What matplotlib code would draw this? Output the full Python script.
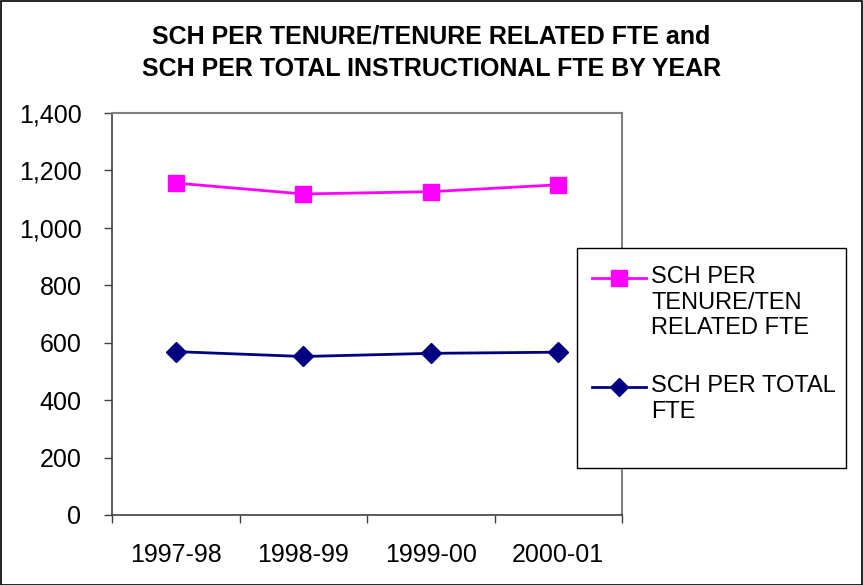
import numpy as np
import matplotlib.pyplot as plt
from matplotlib.patches import Rectangle
from matplotlib.lines import Line2D
from matplotlib.ticker import FuncFormatter

plt.rcParams['font.family'] = ['Liberation Sans', 'DejaVu Sans']

# ── Data ──────────────────────────────────────────────────────
years = ["1997-98", "1998-99", "1999-00", "2000-01"]
sch_tenure = [1156, 1118, 1126, 1150]
sch_total = [569, 552, 563, 567]
labels = ["SCH PER\nTENURE/TEN\nRELATED FTE", "SCH PER TOTAL\nFTE"]

PINK, NAVY = '#FF00FF', '#000080'
W, H = 863, 585

fig = plt.figure(figsize=(W / 100, H / 100), dpi=100)
fig.patch.set_facecolor('white')

ax = fig.add_axes([112 / W, 1 - 515 / H, (622 - 112) / W, (515 - 113) / H])
x = np.arange(len(years))

ax.plot(x, sch_tenure, color=PINK, lw=2, marker='s', ms=11)
ax.plot(x, sch_total, color=NAVY, lw=2, marker='D', ms=10)

ax.set_xlim(-0.5, len(years) - 0.5)
ax.set_ylim(0, 1400)
ax.set_yticks(np.arange(0, 1401, 200))
ax.yaxis.set_major_formatter(FuncFormatter(lambda v, p: f"{int(v):,}"))
ax.set_xticks(x)
ax.set_xticklabels(years)
ax.set_xticks(np.arange(-0.5, len(years)), minor=True)
ax.tick_params(axis='x', which='major', length=0, pad=20, labelsize=18)
ax.tick_params(axis='x', which='minor', length=6, width=1, color='#404040')
ax.tick_params(axis='y', length=6, width=1, color='#404040', labelsize=18, pad=16)

for s in ['left', 'bottom']:
    ax.spines[s].set_color('#404040')
    ax.spines[s].set_linewidth(1.2)
for s in ['top', 'right']:
    ax.spines[s].set_color('#808080')
    ax.spines[s].set_linewidth(1.5)

fig.text(0.5, 1 - 37 / H, "SCH PER TENURE/TENURE RELATED FTE and",
         ha='center', va='center', fontsize=18, fontweight='bold')
fig.text(0.5, 1 - 69 / H, "SCH PER TOTAL INSTRUCTIONAL FTE BY YEAR",
         ha='center', va='center', fontsize=18, fontweight='bold')

# legend box, drawn by hand so the handle sits on the first text line
fig.patches.append(Rectangle((577 / W, 1 - 468 / H), (846 - 577) / W, (468 - 248) / H,
                             transform=fig.transFigure, facecolor='white',
                             edgecolor='black', lw=1, zorder=5))
for (col, mk, ms), lbl, ytop in zip([(PINK, 's', 11), (NAVY, 'D', 9.5)], labels, [278, 387]):
    yf = 1 - ytop / H
    fig.add_artist(Line2D([592 / W, 646 / W], [yf, yf], color=col, lw=2, zorder=6))
    fig.add_artist(Line2D([619 / W], [yf], color=col, marker=mk, ms=ms, zorder=7))
    fig.text(651 / W, 1 - (ytop - 12) / H, lbl, ha='left', va='top',
             fontsize=17, linespacing=1.22, zorder=7)

# outer border
fig.patches.append(Rectangle((0.5 / W, 0.5 / H), 1 - 1.5 / W, 1 - 1.5 / H,
                             transform=fig.transFigure, facecolor='none',
                             edgecolor='black', lw=1.2))

fig.savefig("out.png", dpi=100)
